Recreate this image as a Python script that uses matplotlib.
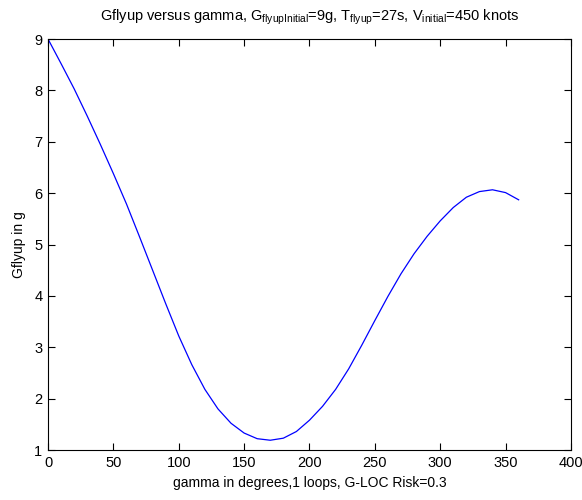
import matplotlib
matplotlib.use("Agg")
from matplotlib import pyplot as plt

plt.rcParams['font.family'] = ['Liberation Sans', 'DejaVu Sans']
plt.rcParams['mathtext.fontset'] = 'custom'
plt.rcParams['mathtext.rm'] = 'Liberation Sans'
plt.rcParams['mathtext.it'] = 'Liberation Sans'

# values
gamma = [0, 10, 20, 30, 40, 50, 60, 70, 80, 90, 100, 110, 120, 130, 140, 150,
         160, 170, 180, 190, 200, 210, 220, 230, 240, 250, 260, 270, 280, 290,
         300, 310, 320, 330, 340, 350, 360]
gflyup = [9.00, 8.52, 8.03, 7.50, 6.95, 6.38, 5.79, 5.15, 4.50, 3.85, 3.22,
          2.66, 2.18, 1.80, 1.52, 1.33, 1.22, 1.19, 1.23, 1.36, 1.58, 1.85,
          2.18, 2.58, 3.04, 3.52, 3.99, 4.43, 4.82, 5.16, 5.46, 5.72, 5.92,
          6.03, 6.065, 6.01, 5.87]

xticks = [0, 50, 100, 150, 200, 250, 300, 350, 400]
yticks = [1, 2, 3, 4, 5, 6, 7, 8, 9]

fig = plt.figure(figsize=(5.82, 5.00), dpi=100)
ax = fig.add_axes([0.0825, 0.10, 0.8985, 0.822])
ax.plot(gamma, gflyup, color=(0, 0, 1), linewidth=0.9)

ax.set_xlim(0, 400)
ax.set_ylim(1, 9)
ax.set_xticks(xticks)
ax.set_yticks(yticks)
ax.tick_params(direction='in', top=True, right=True, length=5, width=0.8,
               labelsize=10.5, pad=4)
for s in ax.spines.values():
    s.set_linewidth(0.8)

ax.set_title(r'Gflyup versus gamma, G$_{\mathrm{flyupInitial}}$=9g, '
             r'T$_{\mathrm{flyup}}$=27s, V$_{\mathrm{initial}}$=450 knots',
             fontsize=10.5, pad=13)
ax.set_xlabel('gamma in degrees,1 loops, G-LOC Risk=0.3', fontsize=10, labelpad=5)
ax.set_ylabel('Gflyup in g', fontsize=10, labelpad=6)

fig.savefig('out.png', dpi=100)
